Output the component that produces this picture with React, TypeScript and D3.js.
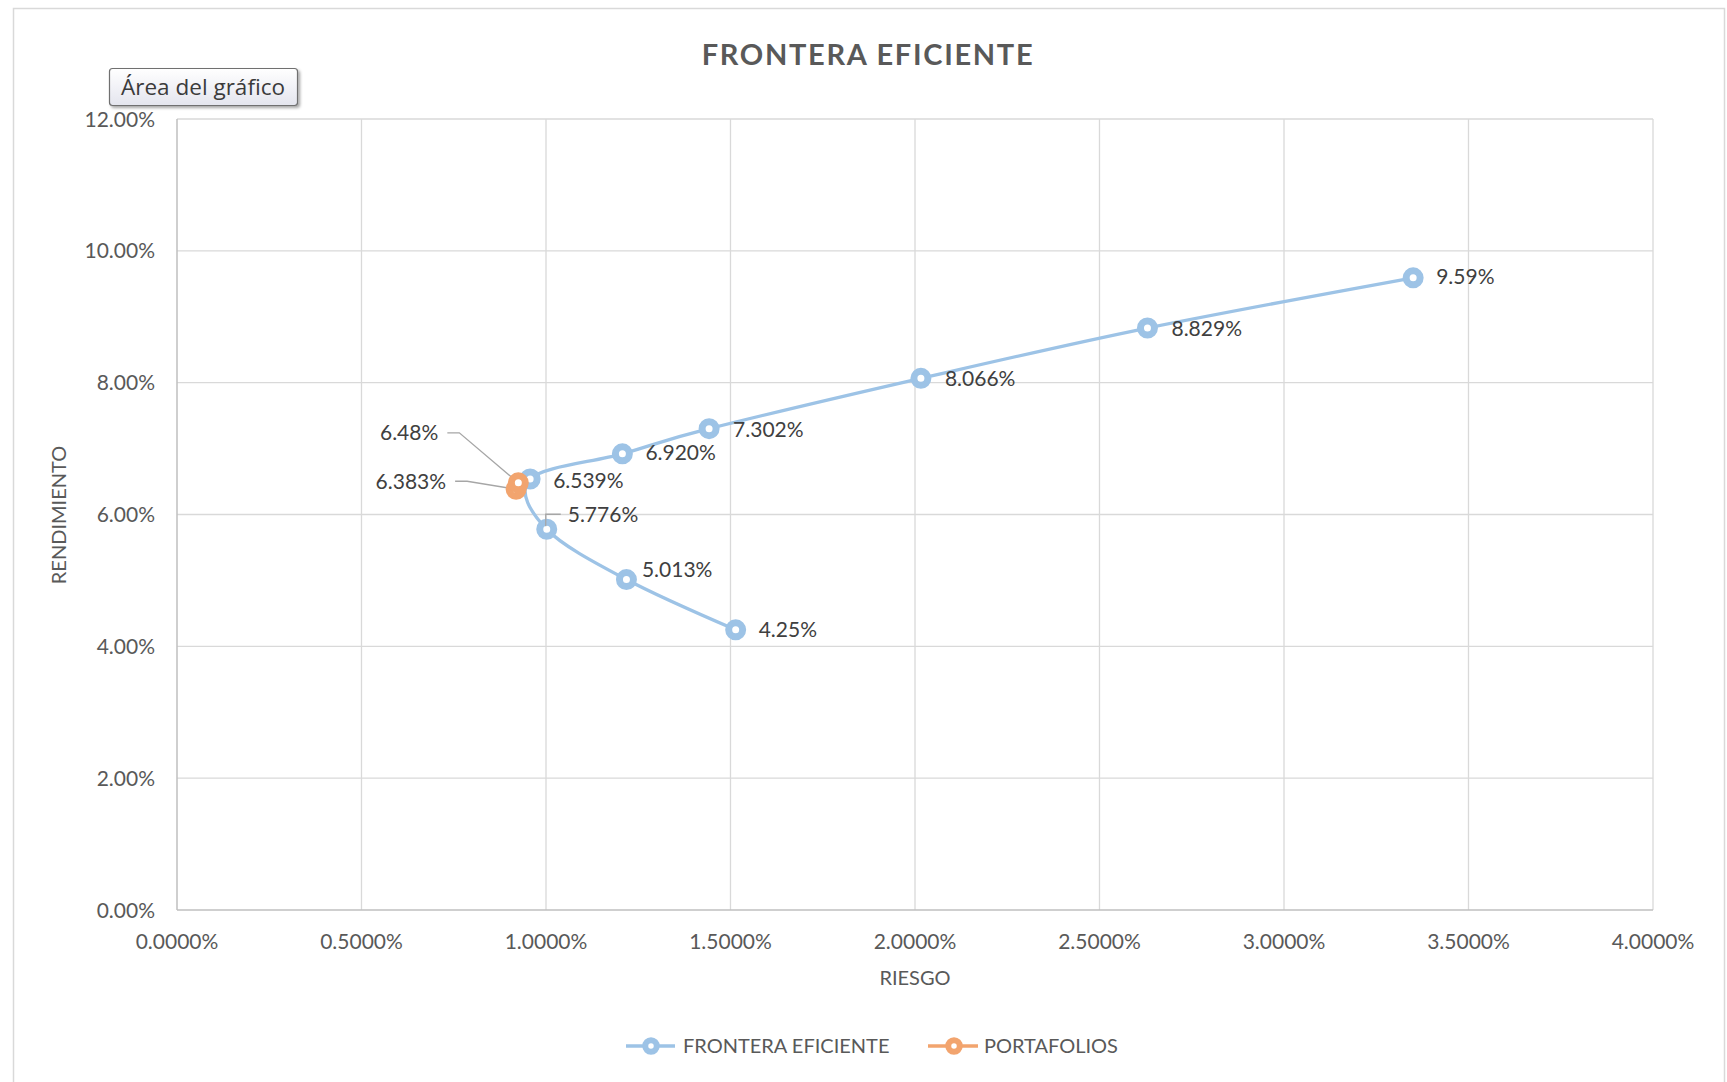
import React from "react";
import * as d3 from "d3";

const X_TICKS = [0, 0.5, 1, 1.5, 2, 2.5, 3, 3.5, 4];
const Y_TICKS = [0, 2, 4, 6, 8, 10, 12];

const frontierRisk = [1.514, 1.218, 1.002, 0.957, 1.207, 1.442, 2.016, 2.63, 3.35];
const frontierReturn = [4.25, 5.013, 5.776, 6.539, 6.92, 7.302, 8.066, 8.829, 9.59];
const frontierLabels = ["4.25%", "5.013%", "5.776%", "6.539%", "6.920%", "7.302%", "8.066%", "8.829%", "9.59%"];

const portfolioRisk = [0.925, 0.919];
const portfolioReturn = [6.48, 6.383];
const portfolioLabels = ["6.48%", "6.383%"];

// label layout (offset from point, in px); leader = draw leader line
const frontierLabelLayout = [
  { dx: 23, dy: 0, leader: false },
  { dx: 15.5, dy: -10.5, leader: false },
  { dx: 21, dy: -15, leader: true },
  { dx: 23, dy: 1.5, leader: false },
  { dx: 23, dy: -1, leader: false },
  { dx: 24, dy: 1, leader: false },
  { dx: 24, dy: 0, leader: false },
  { dx: 24, dy: 0, leader: false },
  { dx: 23, dy: -1, leader: false },
];
const portfolioLabelLayout = [
  { dx: -80, dy: -50 },
  { dx: -70, dy: -8 },
];

const W = 1727;
const H = 1082;
const BLUE = "#9DC3E6";
const ORANGE = "#F2A46E";
const GRID = "#D9D9D9";
const AXIS = "#BFBFBF";
const TICK_TEXT = "#595959";
const LABEL_TEXT = "#404040";
const FONT = "Lato, 'Open Sans', sans-serif";

function Marker({ x, y, color, r = 7, sw = 7 }: { x: number; y: number; color: string; r?: number; sw?: number }) {
  return <circle cx={x} cy={y} r={r} fill="#fff" stroke={color} strokeWidth={sw} />;
}

export default function App() {
  const x = d3.scaleLinear().domain([0, 4]).range([177, 1653]);
  const y = d3.scaleLinear().domain([0, 12]).range([910, 119]);

  const pts: [number, number][] = frontierRisk.map((r, i) => [x(r), y(frontierReturn[i])]);
  const line = d3.line().curve(d3.curveCardinal.tension(0));
  const pathD = line(pts) || "";

  const pPts: [number, number][] = portfolioRisk.map((r, i) => [x(r), y(portfolioReturn[i])]);

  return (
    <svg width={W} height={H} style={{ position: "absolute", left: 0, top: 0, background: "#fff" }}>
      <defs>
        <linearGradient id="tipGrad" x1="0" y1="0" x2="0" y2="1">
          <stop offset="0" stopColor="#ffffff" />
          <stop offset="1" stopColor="#e4e5ee" />
        </linearGradient>
        <filter id="tipShadow" x="-10%" y="-20%" width="130%" height="160%">
          <feDropShadow dx="2" dy="2" stdDeviation="1.5" floodColor="#000" floodOpacity="0.35" />
        </filter>
      </defs>
      <rect x={0} y={0} width={W} height={H} fill="#fff" />
      <rect x={13.5} y={8.5} width={1711} height={1090} fill="#fff" stroke={GRID} strokeWidth={1.5} />

      {/* title */}
      <text x={868} y={65} textAnchor="middle" fontFamily={FONT} fontWeight={700} fontSize={29} letterSpacing={1.7} fill={TICK_TEXT}>
        FRONTERA EFICIENTE
      </text>

      {/* gridlines */}
      {X_TICKS.slice(1).map((t) => (
        <line key={"gx" + t} x1={x(t)} x2={x(t)} y1={y(12)} y2={y(0)} stroke={GRID} strokeWidth={1.3} />
      ))}
      {Y_TICKS.slice(1).map((t) => (
        <line key={"gy" + t} x1={x(0)} x2={x(4)} y1={y(t)} y2={y(t)} stroke={GRID} strokeWidth={1.3} />
      ))}
      {/* axes */}
      <line x1={x(0)} x2={x(0)} y1={y(12)} y2={y(0)} stroke={AXIS} strokeWidth={1.5} />
      <line x1={x(0)} x2={x(4)} y1={y(0)} y2={y(0)} stroke={AXIS} strokeWidth={1.5} />

      {/* tick labels */}
      {Y_TICKS.map((t) => (
        <text key={"ty" + t} x={155} y={y(t)} dy="0.36em" textAnchor="end" fontFamily={FONT} fontSize={21} fill={TICK_TEXT}>
          {t.toFixed(2) + "%"}
        </text>
      ))}
      {X_TICKS.map((t) => (
        <text key={"tx" + t} x={x(t)} y={949} textAnchor="middle" fontFamily={FONT} fontSize={21} fill={TICK_TEXT}>
          {t.toFixed(4) + "%"}
        </text>
      ))}

      {/* axis titles */}
      <text x={915} y={985} textAnchor="middle" fontFamily={FONT} fontSize={20} fill={TICK_TEXT}>
        RIESGO
      </text>
      <text transform={`translate(66,515) rotate(-90)`} textAnchor="middle" fontFamily={FONT} fontSize={20} fill={TICK_TEXT}>
        RENDIMIENTO
      </text>

      {/* frontier line */}
      <path d={pathD} fill="none" stroke={BLUE} strokeWidth={3.3} strokeLinejoin="round" />
      {pts.map((p, i) => (
        <Marker key={"fm" + i} x={p[0]} y={p[1]} color={BLUE} />
      ))}

      {/* leader lines */}
      {pts.map((p, i) => {
        const l = frontierLabelLayout[i];
        if (!l.leader) return null;
        const lx = p[0] + l.dx;
        const ly = p[1] + l.dy;
        return (
          <polyline key={"fl" + i} points={`${p[0] - 1},${p[1] - 3} ${p[0] - 1},${ly} ${lx - 7},${ly}`} fill="none" stroke="#A6A6A6" strokeWidth={1.3} />
        );
      })}
      {pPts.map((p, i) => {
        const l = portfolioLabelLayout[i];
        const lx = p[0] + l.dx;
        const ly = p[1] + l.dy;
        return (
          <polyline key={"pl" + i} points={`${lx + 9},${ly} ${lx + 21},${ly} ${p[0]},${p[1]}`} fill="none" stroke="#A6A6A6" strokeWidth={1.3} />
        );
      })}

      {/* portfolios */}
      {pPts
        .map((p, i) => ({ p, i }))
        .reverse()
        .map(({ p, i }) => (
          <Marker key={"pm" + i} x={p[0]} y={p[1]} color={ORANGE} />
        ))}

      {/* data labels */}
      {pts.map((p, i) => {
        const l = frontierLabelLayout[i];
        return (
          <text key={"flab" + i} x={p[0] + l.dx} y={p[1] + l.dy} dy="0.36em" fontFamily={FONT} fontSize={21} fill={LABEL_TEXT}>
            {frontierLabels[i]}
          </text>
        );
      })}
      {pPts.map((p, i) => {
        const l = portfolioLabelLayout[i];
        return (
          <text key={"plab" + i} x={p[0] + l.dx} y={p[1] + l.dy} dy="0.36em" textAnchor="end" fontFamily={FONT} fontSize={21} fill={LABEL_TEXT}>
            {portfolioLabels[i]}
          </text>
        );
      })}

      {/* legend */}
      <g>
        <line x1={626} x2={675} y1={1046} y2={1046} stroke={BLUE} strokeWidth={3.5} />
        <Marker x={651} y={1046} color={BLUE} r={5.75} sw={6} />
        <text x={683} y={1046} dy="0.36em" fontFamily={FONT} fontSize={20} fill={TICK_TEXT}>
          FRONTERA EFICIENTE
        </text>
        <line x1={928} x2={978} y1={1046} y2={1046} stroke={ORANGE} strokeWidth={3.5} />
        <Marker x={954} y={1046} color={ORANGE} r={5.75} sw={6} />
        <text x={984} y={1046} dy="0.36em" fontFamily={FONT} fontSize={20} fill={TICK_TEXT}>
          PORTAFOLIOS
        </text>
      </g>

      {/* tooltip */}
      <g filter="url(#tipShadow)">
        <rect x={109.5} y={68.5} width={188} height={37} rx={3} fill="url(#tipGrad)" stroke="#6f6f6f" strokeWidth={1.2} />
      </g>
      <text x={121} y={95} fontFamily="'Open Sans', sans-serif" fontSize={21} fill="#3b3b3b" textLength={164} lengthAdjust="spacingAndGlyphs">
        Área del gráfico
      </text>
    </svg>
  );
}
